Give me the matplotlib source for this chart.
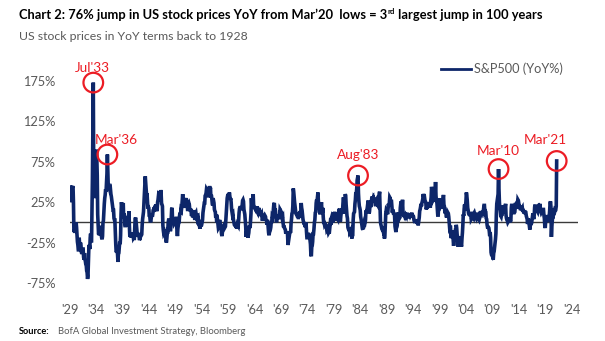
import matplotlib
matplotlib.use("Agg")
import matplotlib.pyplot as plt
import numpy as np

# S&P500 year-on-year change (%), monthly, Jan..Dec on each row
first_year = 1929
yoy_1920s = [
    43, 45, 38, 29, 25, 34, 44, 44, 45, 24, -12, -9,
]
yoy_1930s = [
    -13, -9, -4, 0, -6, -16, -24, -28, -34, -34, -19, -28,
    -27, -25, -28, -37, -39, -35, -33, -33, -43, -46, -38, -46,
    -48, -52, -53, -60, -62, -70, -66, -47, -30, -28, -33, -19,
    -14, -24, -25, 10, 53, 120, 173, 60, 30, 39, 42, 47,
    54, 90, 80, 58, 10, -3, -15, -13, -16, -7, -6, -6,
    -15, -19, -21, -17, 0, 2, 13, 23, 30, 34, 41, 38,
    48, 60, 84, 63, 44, 46, 46, 43, 40, 41, 35, 32,
    28, 24, 21, 15, 15, 5, 3, 3, -13, -27, -37, -36,
    -36, -39, -49, -39, -38, -31, -24, -27, -16, 10, 25, 20,
    11, 11, 24, 5, 11, 8, -4, -4, 8, -2, -5, -2,
]
yoy_1940s = [
    -2, 0, -1, 14, -5, -18, -17, -13, -17, -17, -13, -15,
    -15, -19, -18, -22, -9, 4, 6, 2, -4, -10, -16, -16,
    -15, -13, -18, -22, -20, -15, -17, -16, -15, -3, 4, 8,
    13, 24, 37, 47, 57, 48, 41, 34, 36, 26, 17, 19,
    18, 9, 9, 3, 0, 3, 7, 11, 7, 10, 15, 16,
    13, 19, 14, 20, 22, 19, 14, 16, 25, 28, 33, 32,
    38, 33, 27, 40, 36, 23, 22, 20, -4, -10, -14, -13,
    -16, -13, -14, -22, -25, -20, -13, -14, 0, 3, 3, -1,
    -3, -11, -6, 5, 17, 18, 2, 2, 2, 4, -1, 0,
    4, 5, 5, -3, -9, -17, -8, -3, 1, 1, 9, 12,
]
yoy_1950s = [
    10, 16, 15, 20, 27, 35, 20, 21, 22, 24, 21, 18,
    28, 30, 25, 22, 16, 16, 23, 24, 22, 16, 14, 17,
    14, 8, 10, 8, 8, 13, 15, 10, 5, 5, 11, 12,
    8, 9, 9, 4, 5, -2, -3, -3, -8, -1, -2, -5,
    -3, 0, 3, 12, 16, 21, 24, 24, 33, 34, 36, 41,
    40, 42, 37, 37, 31, 38, 45, 40, 43, 31, 34, 30,
    24, 21, 30, 27, 24, 16, 14, 13, 6, 10, 2, 2,
    3, -2, -7, -6, 1, 3, -1, -5, -6, -14, -17, -13,
    -9, -5, -4, -6, -7, -6, -5, 4, 11, 24, 30, 33,
    35, 33, 33, 37, 33, 28, 30, 25, 16, 12, 9, 10,
]
yoy_1960s = [
    4, 1, -2, -2, -5, -1, -7, -4, -3, -8, -3, -4,
    3, 12, 17, 18, 20, 15, 18, 19, 21, 27, 28, 26,
    16, 13, 10, 3, -5, -18, -13, -14, -14, -19, -16, -13,
    -6, -6, -7, 1, 11, 30, 21, 21, 26, 35, 21, 20,
    18, 17, 20, 16, 15, 14, 20, 16, 14, 16, 18, 12,
    13, 12, 10, 10, 11, 6, 2, 5, 7, 8, 8, 9,
    8, 7, 2, 4, -3, 1, 1, -7, -13, -16, -12, -11,
    -9, -6, 1, -1, 7, 6, 8, 17, 23, 24, 14, 17,
    12, 4, 0, 5, 6, 10, 8, 4, 6, 8, 16, 15,
    7, 12, 11, 6, 7, -1, -6, -4, -7, -8, -9, -14,
]
yoy_1970s = [
    -11, -14, -11, -15, -28, -24, -20, -17, -13, -12, -13, -1,
    4, 11, 12, 20, 42, 38, 31, 25, 20, 15, 11, 10,
    10, 8, 8, 6, 6, 8, 8, 14, 10, 13, 24, 18,
    15, 9, 4, 1, 0, -3, -1, -6, -3, 0, -11, -19,
    -19, -18, -13, -16, -16, -14, -22, -27, -40, -42, -30, -29,
    -24, -14, -14, -8, 0, 3, 12, 13, 24, 28, 26, 32,
    37, 26, 21, 20, 12, 10, 13, 21, 25, 15, 12, 18,
    7, 0, 0, -3, -2, -2, -4, -5, -9, -8, -7, -10,
    -13, -12, -12, -6, -1, -2, -3, 6, 8, 7, 0, 2,
    10, 10, 13, 10, 2, 4, 6, 3, 5, 4, 10, 12,
]
yoy_1980s = [
    11, 17, 5, 1, 8, 13, 17, 15, 16, 25, 31, 24,
    20, 11, 35, 33, 22, 15, 8, 5, -6, -8, -9, -7,
    -12, -11, -17, -13, -12, -20, -15, -15, 3, 11, 12, 13,
    23, 28, 37, 36, 41, 52, 55, 58, 36, 26, 20, 18,
    15, 7, 4, 0, -5, -8, -9, 1, -1, -2, 1, 0,
    3, 15, 14, 15, 18, 23, 27, 15, 11, 13, 19, 26,
    21, 21, 29, 32, 29, 30, 25, 30, 29, 27, 24, 20,
    27, 28, 26, 22, 21, 23, 29, 34, 38, 18, 0, -3,
    -5, -8, -9, -9, -11, -10, -13, -20, -16, -1, 11, 15,
    14, 14, 10, 15, 23, 20, 23, 31, 30, 25, 26, 26,
]
yoy_1990s = [
    19, 12, 16, 12, 12, 11, 8, -5, -9, -12, -7, -6,
    -4, 10, 10, 12, 8, 5, 6, 18, 23, 26, 22, 18,
    28, 14, 9, 7, 10, 8, 9, 7, 8, 7, 10, 12,
    5, 7, 11, 9, 7, 10, 8, 9, 10, 12, 9, 7,
    9, 7, 3, 1, 1, 1, 1, 2, 2, 0, 0, -2,
    -2, 2, 6, 14, 16, 19, 23, 20, 24, 26, 29, 35,
    32, 35, 31, 27, 26, 24, 16, 19, 17, 20, 24, 21,
    25, 23, 22, 18, 26, 31, 44, 40, 39, 36, 28, 29,
    26, 28, 36, 50, 33, 26, 25, 16, 9, 9, 22, 24,
    30, 22, 19, 20, 20, 19, 19, 24, 30, 34, 22, 20,
]
yoy_2000s = [
    14, 11, 13, 9, 6, 11, 7, 12, 11, 7, -1, -7,
    -6, -6, -18, -19, -10, -15, -18, -21, -29, -23, -18, -14,
    -15, -16, -3, -7, -15, -18, -30, -23, -17, -27, -19, -21,
    -21, -27, -30, -20, -13, -3, 10, 8, 17, 22, 15, 20,
    26, 37, 33, 27, 18, 15, 11, 10, 10, 8, 11, 11,
    4, 5, 6, 3, 7, 6, 11, 12, 10, 7, 6, 5,
    8, 6, 8, 12, 9, 4, 3, 5, 7, 14, 12, 12,
    11, 13, 9, 12, 17, 21, 21, 13, 14, 13, 5, 4,
    -3, -6, -6, -6, -7, -11, -17, -12, -19, -37, -40, -41,
    -37, -41, -46, -38, -36, -31, -26, -21, -14, 10, 23, 27,
]
yoy_2010s = [
    30, 35, 66, 41, 25, 17, 15, 8, 7, 10, 10, 12,
    14, 21, 13, 11, 19, 19, 23, 9, 5, 3, 2, 0,
    1, 2, 6, 4, 0, 3, 3, 18, 23, 19, 14, 14,
    14, 12, 12, 13, 22, 22, 23, 19, 17, 20, 28, 27,
    23, 20, 20, 19, 15, 20, 18, 17, 18, 13, 15, 14,
    11, 15, 12, 12, 12, 8, 6, 4, -2, 5, 2, 0,
    -5, -9, -3, -1, -2, -1, 3, 7, 11, 6, 4, 9,
    19, 22, 17, 14, 16, 17, 14, 13, 16, 19, 20, 19,
    23, 16, 14, 12, 13, 13, 14, 16, 16, 9, 5, -4,
    -7, 2, 4, 9, 6, 5, 7, 1, 3, 7, 14, 24,
]
yoy_2020s = [
    26, 19, -18, -5, 2, 7, 7, 17, 13, 15, 14, 16,
    16, 20, 76,
]

# highlighted peaks: label, (year, month), label offset in px (dx, dy up)
peak_labels = ["Jul'33", "Mar'36", "Aug'83", "Mar'10", "Mar'21"]
peak_months = [(1933, 7), (1936, 3), (1983, 8), (2010, 3), (2021, 3)]
label_offsets = [(-1, 15), (9, 15), (0, 21), (0, 18), (-11, 21)]

tick_years = list(range(1929, 2025, 5))
y_ticks = [-75, -25, 25, 75, 125, 175]

yoy = np.array(yoy_1920s + yoy_1930s + yoy_1940s + yoy_1950s + yoy_1960s
               + yoy_1970s + yoy_1980s + yoy_1990s + yoy_2000s + yoy_2010s
               + yoy_2020s, dtype=float)
dates = first_year + np.arange(len(yoy)) / 12.0

plt.rcParams["font.family"] = ["Lato", "DejaVu Sans"]

navy = "#0d2669"
red = "#ec1c24"
grey = "#595959"

W, H = 605, 341
fig = plt.figure(figsize=(W / 100, H / 100), dpi=100)
r = fig.canvas.get_renderer()


def size_for(text, width_px, weight="normal"):
    # font size that makes `text` about width_px wide
    t = fig.text(0, 0, text, fontsize=10, fontweight=weight)
    w = t.get_window_extent(renderer=r).width
    t.remove()
    return 10 * width_px / w


tick_fs = size_for("175%", 32.5)
ann_fs = size_for("Mar'36", 43)
leg_fs = size_for("S&P500 (YoY%)", 89)

ax = fig.add_axes([69.5 / W, 1 - 287 / H, 508.5 / W, 226.2 / H])

ax.axhline(0, color="#3a3a3a", lw=1.0, zorder=1)
ax.plot(dates, yoy, color=navy, lw=2.6, solid_joinstyle="miter", zorder=2,
        label="S&P500 (YoY%)")

for lab, (yr, mo), (dx, dy) in zip(peak_labels, peak_months, label_offsets):
    i = (yr - first_year) * 12 + (mo - 1)
    x, y = dates[i], yoy[i]
    ax.scatter([x], [y], s=200, facecolors="none", edgecolors=red,
               linewidths=1.6, zorder=4)
    ax.annotate(lab, (x, y), xytext=(dx * 0.72, dy * 0.72),
                textcoords="offset points", ha="center", va="center",
                color=red, fontsize=ann_fs, zorder=5)

ax.set_xlim(1929, 2025.2)
ax.set_ylim(-80, 200)
ax.set_xticks(tick_years)
ax.set_xticklabels([f"'{y % 100:02d}" for y in tick_years])
ax.set_yticks(y_ticks)
ax.set_yticklabels([f"{v}%" for v in y_ticks])
ax.tick_params(length=0, colors=grey, labelsize=tick_fs)
ax.tick_params(axis="y", pad=10)
ax.tick_params(axis="x", pad=12)
for s in ax.spines.values():
    s.set_visible(False)

leg = ax.legend(loc="center left", bbox_to_anchor=(440.5 / W, 1 - 69 / H),
                bbox_transform=fig.transFigure, frameon=False,
                fontsize=leg_fs, labelcolor=grey, handlelength=2.4,
                handletextpad=0.25, borderpad=0, borderaxespad=0)
leg.get_lines()[0].set_linewidth(2.0)


def draw_title(size):
    parts = []
    t1 = fig.text(19 / W, 1 - 15 / H,
                  "Chart 2: 76% jump in US stock prices YoY from Mar\u201920  lows = 3",
                  fontsize=size, fontweight="bold", va="center", ha="left")
    bb = t1.get_window_extent(renderer=r)
    t2 = fig.text(bb.x1 / W, 1 - 11 / H, "rd", fontsize=size * 0.6,
                  fontweight="bold", va="center", ha="left")
    bb2 = t2.get_window_extent(renderer=r)
    t3 = fig.text(bb2.x1 / W, 1 - 15 / H, " largest jump in 100 years",
                  fontsize=size, fontweight="bold", va="center", ha="left")
    parts = [t1, t2, t3]
    return parts, t3.get_window_extent(renderer=r).x1


# size the title so it ends where the plot text block ends
parts, right = draw_title(10)
for p in parts:
    p.remove()
draw_title(10 * (541 - 19) / (right - 19))

fig.text(19 / W, 1 - 36 / H, "US stock prices in YoY terms back to 1928",
         fontsize=size_for("US stock prices in YoY terms back to 1928", 228),
         color=grey, va="center", ha="left")

s1 = fig.text(19 / W, 1 - 331 / H, "Source:",
              fontsize=size_for("Source:", 31, "bold"),
              fontweight="bold", va="center", ha="left")
bb3 = s1.get_window_extent(renderer=r)
src = "BofA Global Investment Strategy, Bloomberg"
fig.text((bb3.x1 + 8) / W, 1 - 331 / H, src, fontsize=size_for(src, 187),
         color=grey, va="center", ha="left")

fig.savefig("out.png", dpi=100)
